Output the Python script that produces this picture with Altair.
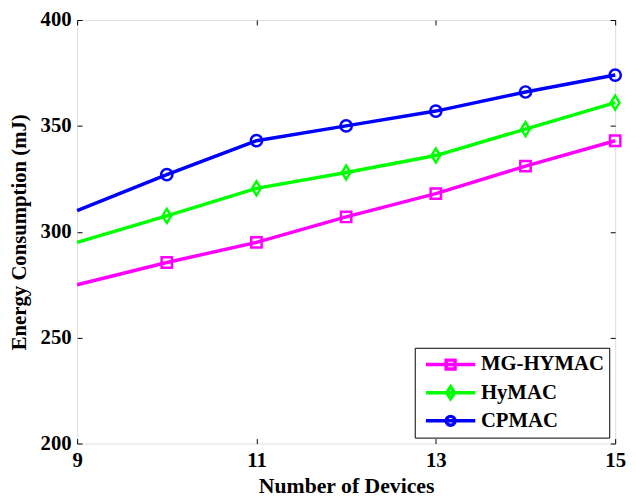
import altair as alt
import pandas as pd

devices = [9, 10, 11, 12, 13, 14, 15]
series_names = ["MG-HYMAC", "HyMAC", "CPMAC"]
mg_hymac = [275, 285.5, 295, 307, 318, 331, 343]
hymac = [295, 307.5, 320.5, 328, 336, 348.5, 361]
cpmac = [310, 327, 343, 350, 357, 366, 374]
marker_devices = [10, 11, 12, 13, 14, 15]
colors = ["#ff00ff", "#00ff00", "#0000ff"]
x_ticks = [9, 11, 13, 15]
y_ticks = [200, 250, 300, 350, 400]

rows = []
for name, vals in zip(series_names, [mg_hymac, hymac, cpmac]):
    for d, v in zip(devices, vals):
        rows.append({"devices": d, "energy": v, "series": name})
df = pd.DataFrame(rows)
pts = df[df["devices"].isin(marker_devices)]

FONT = "Liberation Serif"
TICK = 5

xs = alt.Scale(domain=[9, 15], nice=False, zero=False)
ys = alt.Scale(domain=[200, 400], nice=False, zero=False)
cs = alt.Scale(domain=series_names, range=colors)

x_bottom = alt.Axis(values=x_ticks, orient="bottom", title="Number of Devices", domain=False,
                    grid=False, offset=-TICK, tickSize=TICK, tickColor="black", tickWidth=1,
                    labelPadding=6, labelFont=FONT, labelFontSize=21, labelFontWeight="bold",
                    labelColor="black", titleFont=FONT, titleFontSize=22, titleFontWeight="bold",
                    titleColor="black", titlePadding=6, labelFlush=False)
y_left = alt.Axis(values=y_ticks, orient="left", title="Energy Consumption (mJ)", domain=False,
                  grid=False, offset=-TICK, tickSize=TICK, tickColor="black", tickWidth=1,
                  labelPadding=6, labelFont=FONT, labelFontSize=21, labelFontWeight="bold",
                  labelColor="black", titleFont=FONT, titleFontSize=21, titleFontWeight="bold",
                  titleColor="black", titlePadding=11, labelFlush=False)
x_top = alt.Axis(values=x_ticks, orient="top", title=None, domain=False, grid=False,
                 labels=False, offset=-TICK, tickSize=TICK, tickColor="black", tickWidth=1)
y_right = alt.Axis(values=y_ticks, orient="right", title=None, domain=False, grid=False,
                   labels=False, offset=-TICK, tickSize=TICK, tickColor="black", tickWidth=1)

shapes = {
    "MG-HYMAC": ("square", 110),
    "HyMAC": ("M0,-1L0.62,0L0,1L-0.62,0Z", 200),
    "CPMAC": ("circle", 130),
}

layers = []
for i, (name, col) in enumerate(zip(series_names, colors)):
    layers.append(
        alt.Chart(df).transform_filter(alt.datum.series == name).mark_line(
            strokeWidth=3.5, color=col
        ).encode(
            x=alt.X("devices:Q", scale=xs, axis=x_bottom if i == 0 else None),
            y=alt.Y("energy:Q", scale=ys, axis=y_left if i == 0 else None),
        )
    )
for name, col in zip(series_names, colors):
    shp, sz = shapes[name]
    layers.append(
        alt.Chart(pts).transform_filter(alt.datum.series == name).mark_point(
            shape=shp, size=sz, filled=False, strokeWidth=2.5, opacity=1, color=col
        ).encode(
            x=alt.X("devices:Q", scale=xs, axis=None),
            y=alt.Y("energy:Q", scale=ys, axis=None),
        )
    )

# legend symbols: a line segment with the marker in its middle (unit = 10px)
legend_paths = [
    "M-1,0M-0.57,0H4.43M1.48,-0.45H2.38V0.45H1.48Z",
    "M-1,0M-0.57,0H4.43M1.93,-0.6L2.33,0L1.93,0.6L1.53,0Z",
    "M-1,0M-0.57,0H4.43M2.38,0A0.45,0.45,0,1,1,1.48,0A0.45,0.45,0,1,1,2.38,0Z",
]
legend_layer = alt.Chart(pts).mark_point(opacity=0, filled=False).encode(
    x=alt.X("devices:Q", scale=xs, axis=x_top),
    y=alt.Y("energy:Q", scale=ys, axis=y_right),
    color=alt.Color("series:N", scale=cs,
                    legend=alt.Legend(title=None, orient="bottom-right", offset=6,
                                      symbolOpacity=1, symbolSize=400, symbolStrokeWidth=3.5,
                                      symbolFillColor="transparent",
                                      labelFont=FONT, labelFontSize=21, labelFontWeight="bold",
                                      labelColor="black", labelOffset=38, rowPadding=3.5,
                                      padding=5, strokeColor="black", fillColor="white",
                                      cornerRadius=0)),
    shape=alt.Shape("series:N", scale=alt.Scale(domain=series_names, range=legend_paths)),
)
layers.append(legend_layer)

chart = alt.layer(*layers).resolve_axis(
    x="independent", y="independent"
).properties(
    width=545, height=429,
    autosize=alt.AutoSizeParams(type="none"),
    padding={"left": 70, "top": 9, "right": 13, "bottom": 52},
).configure_view(stroke="black", strokeWidth=1.2).configure(background="white")

chart.save("out.html", embed_options={"renderer": "svg", "actions": False})
